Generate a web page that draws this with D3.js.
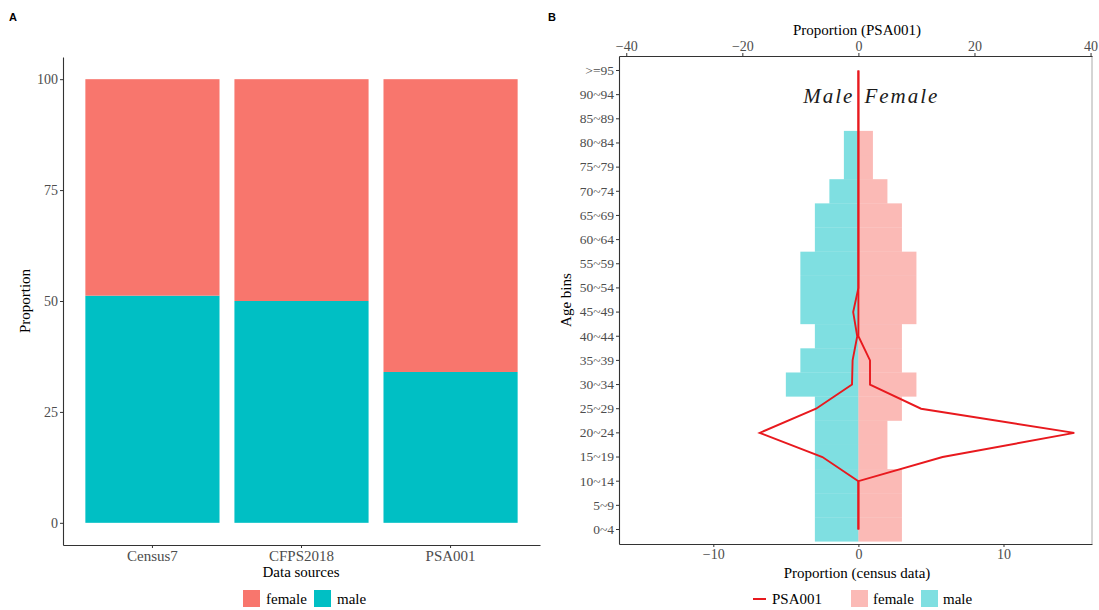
<!DOCTYPE html>
<html>
<head>
<meta charset="utf-8">
<script src="https://cdn.jsdelivr.net/npm/d3@7"></script>
<style>
  body { margin: 0; background: #fff; }
  svg text { font-family: "Liberation Serif", "Times New Roman", serif; }
</style>
</head>
<body>
<svg id="chart" width="1099" height="610"></svg>
<script>
// panel A data: sex share per data source (%)
const sources = ["Census7", "CFPS2018", "PSA001"];
const maleShare = [51.2, 50.0, 34.0];
const femaleShare = [48.8, 50.0, 66.0];

// panel B data: age pyramid
const ageBins = ["0~4", "5~9", "10~14", "15~19", "20~24", "25~29", "30~34", "35~39", "40~44", "45~49",
                 "50~54", "55~59", "60~64", "65~69", "70~74", "75~79", "80~84", "85~89", "90~94", ">=95"];
// census proportions (bottom axis)
const censusMale   = [-3, -3, -3, -3, -3, -3, -5, -4, -3, -4, -4, -4, -3, -3, -2, -1, -1, 0, 0, 0];
const censusFemale = [ 3,  3,  3,  2,  2,  3,  4,  3,  3,  4,  4,  4,  3,  3,  2,  1,  1, 0, 0, 0];
// PSA001 proportions (top axis)
const psaMale   = [0, 0, 0, -6.2, -17.0, -7.3, -1.1, -1.0, -0.2, -0.9, 0, 0, 0, 0, 0, 0, 0, 0, 0, 0];
const psaFemale = [0, 0, 0, 14.5, 37.2, 10.8, 2.0, 2.0, 0, 0, 0, 0, 0, 0, 0, 0, 0, 0, 0, 0];

const colFemale = "#F8766D";
const colMale = "#00BFC4";
const tickCol = "#4d4d4d";

const svg = d3.select("#chart");

function styleAxis(g) {
    g.select(".domain").attr("stroke", "#333").attr("stroke-width", 1.1);
    g.selectAll(".tick line").attr("stroke", "#333").attr("stroke-width", 1);
    g.selectAll(".tick text").attr("fill", tickCol).style("font-size", "14px")
        .style("font-family", "'Liberation Serif', serif");
}

// ---------- panel A ----------
const ax = d3.scaleBand().domain(sources).range([63, 540]).paddingInner(0.1).paddingOuter(0.15);
const ay = d3.scaleLinear().domain([-5, 105]).range([545, 57]);

const gA = svg.append("g");

gA.selectAll(".male")
    .data(sources)
    .enter()
    .append("rect")
    .attr("x", d => ax(d))
    .attr("width", ax.bandwidth())
    .attr("y", (d, i) => ay(maleShare[i]))
    .attr("height", (d, i) => ay(0) - ay(maleShare[i]))
    .style("fill", colMale);

gA.selectAll(".female")
    .data(sources)
    .enter()
    .append("rect")
    .attr("x", d => ax(d))
    .attr("width", ax.bandwidth())
    .attr("y", (d, i) => ay(maleShare[i] + femaleShare[i]))
    .attr("height", (d, i) => ay(maleShare[i]) - ay(maleShare[i] + femaleShare[i]))
    .style("fill", colFemale);

gA.append("g")
    .attr("transform", "translate(63,0)")
    .call(d3.axisLeft(ay).tickValues([0, 25, 50, 75, 100]).tickSize(3).tickPadding(2).tickSizeOuter(0))
    .call(styleAxis);

gA.append("g")
    .attr("transform", "translate(0,545)")
    .call(d3.axisBottom(ax).tickSize(3).tickPadding(2).tickSizeOuter(0))
    .call(styleAxis)
    .call(g => g.selectAll(".tick text").style("font-size", "15px"));

gA.append("text")
    .attr("transform", "rotate(-90)")
    .attr("x", -301)
    .attr("y", 30)
    .attr("text-anchor", "middle")
    .style("font-size", "15px")
    .text("Proportion");

gA.append("text")
    .attr("x", 301)
    .attr("y", 577)
    .attr("text-anchor", "middle")
    .style("font-size", "15px")
    .text("Data sources");

// legend A
const legA = [["female", colFemale, 243], ["male", colMale, 314]];
legA.forEach(d => {
    gA.append("rect").attr("x", d[2]).attr("y", 590).attr("width", 17).attr("height", 17).style("fill", d[1]);
    gA.append("text").attr("x", d[2] + 23).attr("y", 604).style("font-size", "15px").text(d[0]);
});

svg.append("text").attr("x", 9).attr("y", 21)
    .style("font-family", "'Liberation Sans', Arial, sans-serif").style("font-size", "11px")
    .style("font-weight", "bold").text("A");

// ---------- panel B ----------
const bx = d3.scaleLinear().domain([-16.5, 16.1]).range([619, 1092]);
const tx = d3.scaleLinear().domain([-16.5 * 2.5, 16.1 * 2.5]).range([619, 1092]);
const by = d3.scaleBand().domain(ageBins.slice().reverse()).range([56, 544]).paddingOuter(0.1);

const gB = svg.append("g");

gB.selectAll(".cm")
    .data(ageBins)
    .enter()
    .append("rect")
    .attr("x", (d, i) => bx(censusMale[i]))
    .attr("width", (d, i) => bx(0) - bx(censusMale[i]))
    .attr("y", d => by(d))
    .attr("height", by.bandwidth())
    .style("fill", colMale)
    .style("fill-opacity", 0.5);

gB.selectAll(".cf")
    .data(ageBins)
    .enter()
    .append("rect")
    .attr("x", bx(0))
    .attr("width", (d, i) => bx(censusFemale[i]) - bx(0))
    .attr("y", d => by(d))
    .attr("height", by.bandwidth())
    .style("fill", colFemale)
    .style("fill-opacity", 0.5);

const line = d3.line()
    .x(d => tx(d.v))
    .y(d => by(d.age) + by.bandwidth() / 2);

[psaMale, psaFemale].forEach(arr => {
    gB.append("path")
        .datum(ageBins.map((a, i) => ({ age: a, v: arr[i] })))
        .attr("d", line)
        .attr("fill", "none")
        .attr("stroke", "#e8191e")
        .attr("stroke-width", 1.9);
});

// right border
gB.append("line").attr("x1", 1092).attr("x2", 1092).attr("y1", 56).attr("y2", 544)
    .attr("stroke", "#aaa").attr("stroke-width", 1);

gB.append("g")
    .attr("transform", "translate(619,0)")
    .call(d3.axisLeft(by).tickSize(3).tickPadding(2).tickSizeOuter(0))
    .call(styleAxis)
    .call(g => g.selectAll(".tick text").style("font-size", "13.5px"));

gB.append("g")
    .attr("transform", "translate(0,544)")
    .call(d3.axisBottom(bx).tickValues([-10, 0, 10]).tickFormat(d => d < 0 ? "\u2212" + (-d) : d)
        .tickSize(3).tickPadding(2).tickSizeOuter(0))
    .call(styleAxis);

gB.append("g")
    .attr("transform", "translate(0,56)")
    .call(d3.axisTop(tx).tickValues([-40, -20, 0, 20, 40]).tickFormat(d => d < 0 ? "\u2212" + (-d) : d)
        .tickSize(3).tickPadding(2).tickSizeOuter(0))
    .call(styleAxis);

gB.append("text")
    .attr("x", 857)
    .attr("y", 35)
    .attr("text-anchor", "middle")
    .style("font-size", "15px")
    .text("Proportion (PSA001)");

gB.append("text")
    .attr("x", 857)
    .attr("y", 578)
    .attr("text-anchor", "middle")
    .style("font-size", "15px")
    .text("Proportion (census data)");

gB.append("text")
    .attr("transform", "rotate(-90)")
    .attr("x", -300)
    .attr("y", 571)
    .attr("text-anchor", "middle")
    .style("font-size", "15px")
    .text("Age bins");

gB.append("text")
    .attr("x", bx(0) - 4)
    .attr("y", 103)
    .attr("text-anchor", "end")
    .style("font-size", "21px")
    .style("font-style", "italic")
    .style("letter-spacing", "2px")
    .attr("fill", "#1a1a1a")
    .text("Male");

gB.append("text")
    .attr("x", bx(0) + 6)
    .attr("y", 103)
    .style("font-size", "21px")
    .style("font-style", "italic")
    .style("letter-spacing", "2px")
    .attr("fill", "#1a1a1a")
    .text("Female");

// legend B
gB.append("line").attr("x1", 753).attr("x2", 766).attr("y1", 599).attr("y2", 599)
    .attr("stroke", "#e8191e").attr("stroke-width", 2);
gB.append("text").attr("x", 772).attr("y", 604).style("font-size", "15px").text("PSA001");
const legB = [["female", colFemale, 851], ["male", colMale, 921]];
legB.forEach(d => {
    gB.append("rect").attr("x", d[2]).attr("y", 590).attr("width", 17).attr("height", 17)
        .style("fill", d[1]).style("fill-opacity", 0.5);
    gB.append("text").attr("x", d[2] + 22).attr("y", 604).style("font-size", "15px").text(d[0]);
});

svg.append("text").attr("x", 548).attr("y", 21)
    .style("font-family", "'Liberation Sans', Arial, sans-serif").style("font-size", "11px")
    .style("font-weight", "bold").text("B");
</script>
</body>
</html>
